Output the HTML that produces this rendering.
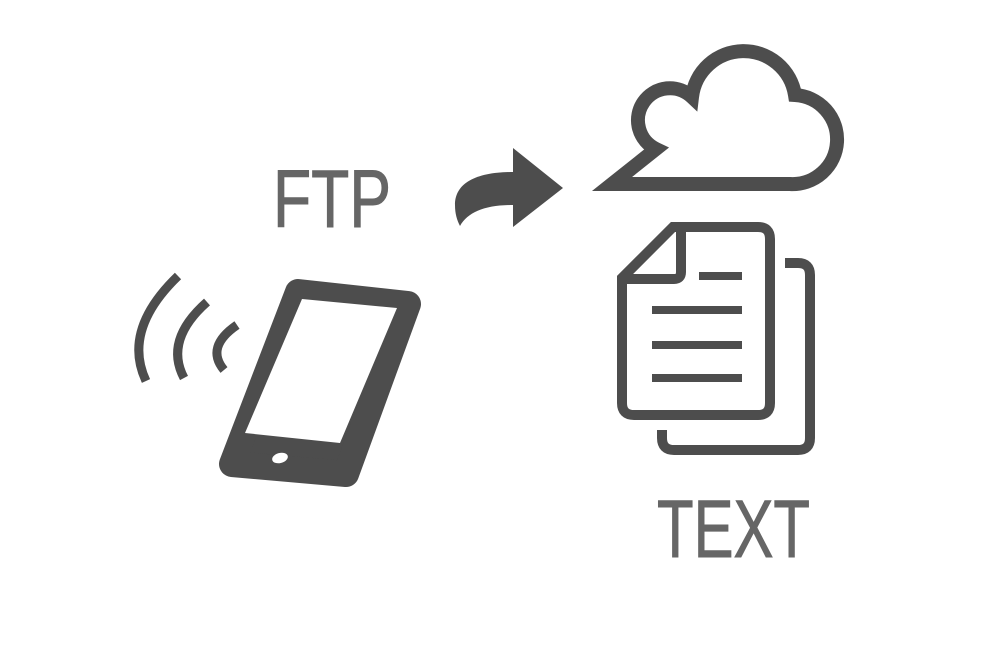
<!DOCTYPE html>
<html><head><meta charset="utf-8"><style>html,body{margin:0;padding:0;background:#fff}svg{display:block}</style></head>
<body>
<svg width="1000" height="668" viewBox="0 0 1000 668" xmlns="http://www.w3.org/2000/svg">
<rect width="1000" height="668" fill="#fff"/>
<!-- FTP -->
<text x="273" y="227" font-family="Liberation Sans, sans-serif" font-size="82" fill="#666" stroke="#666" stroke-width="1" textLength="118" lengthAdjust="spacingAndGlyphs">FTP</text>
<!-- arrow -->
<path d="M513,172 C478,172 455,182 455,205 C455,214 457,220 460,226 C468,212 485,205 513,205 L513,227 L563,188 L513,148 Z" fill="#4d4d4d"/>
<!-- waves -->
<g fill="none" stroke="#4d4d4d" stroke-width="9">
<path d="M178,276 Q122,330 146,381"/>
<path d="M207,302 Q164,340 184,378"/>
<path d="M237,325 Q205,347 224,370"/>
</g>
<!-- phone -->
<polygon points="298,292 408,304 346,474 232,464" fill="#4d4d4d" stroke="#4d4d4d" stroke-width="26" stroke-linejoin="round"/>
<polygon points="302,299 397,308 340,443 245,433" fill="#fff"/>
<ellipse cx="280" cy="458" rx="8" ry="5" fill="#fff" transform="rotate(-15 280 458)"/>
<!-- cloud -->
<path d="M612,184 L656,149 A32 32 0 1 1 692,97 A52 52 0 0 1 795,95 A44 44 0 0 1 790,184 Z" fill="none" stroke="#4d4d4d" stroke-width="14" stroke-linejoin="miter"/>
<!-- documents -->
<g fill="none" stroke="#4d4d4d" stroke-width="10">
<path d="M673,227 L758,227 Q770,227 770,239 L770,403 Q770,415 758,415 L634,415 Q622,415 622,403 L622,278 Z"/>
<path d="M681,227 L681,272 Q681,279 674,279 L622,279"/>
<path d="M785,263 L798,263 Q810,263 810,275 L810,438 Q810,450 798,450 L674,450 Q662,450 662,438 L662,430"/>
</g>
<g stroke="#4d4d4d" stroke-width="8">
<line x1="699" y1="276" x2="742" y2="276"/>
<line x1="652" y1="310" x2="742" y2="310"/>
<line x1="652" y1="345" x2="742" y2="345"/>
<line x1="652" y1="378" x2="742" y2="378"/>
</g>
<text x="657" y="557" font-family="Liberation Sans, sans-serif" font-size="82" fill="#666" stroke="#666" stroke-width="1" textLength="153" lengthAdjust="spacingAndGlyphs">TEXT</text>
</svg>
</body></html>
